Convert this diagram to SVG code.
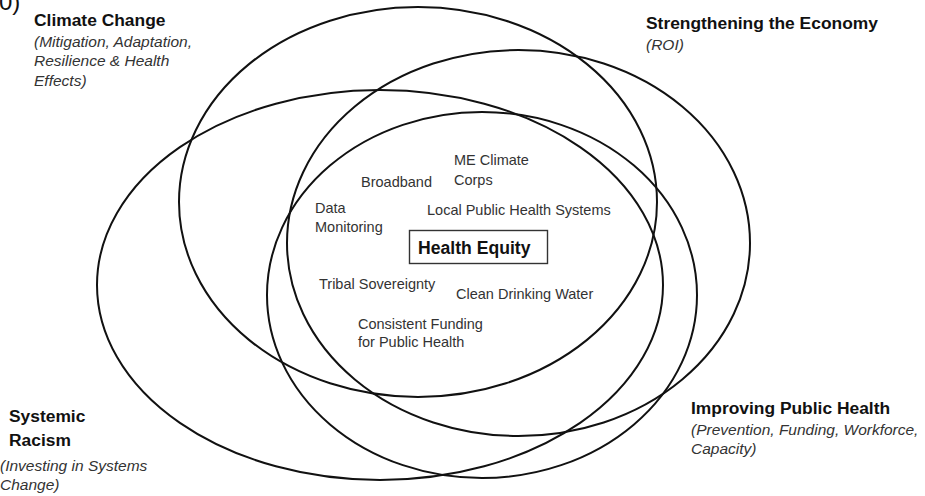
<svg xmlns="http://www.w3.org/2000/svg" width="925" height="496" viewBox="0 0 925 496">
<style>
  .ring { fill: none; stroke: #111; stroke-width: 2; }
  .head { font-family: "Liberation Sans", Arial, sans-serif; font-weight: bold; font-size: 17.4px; fill: #111; }
  .sub { font-family: "Liberation Sans", Arial, sans-serif; font-style: italic; font-size: 15.5px; fill: #333; }
  .item { font-family: "Liberation Sans", Arial, sans-serif; font-size: 14.5px; fill: #333; }
  .box { fill: #fff; stroke: #333; stroke-width: 1.4; }
  .center { font-family: "Liberation Sans", Arial, sans-serif; font-weight: bold; font-size: 17.6px; fill: #111; }
</style>
<rect width="925" height="496" fill="#fff"/>
<text x="-1" y="10" style="font-family: 'Liberation Sans', Arial, sans-serif; font-size: 24px; fill: #111;">0)</text>

<g id="climate-change">
  <ellipse class="ring" cx="418" cy="202" rx="239" ry="195"/>
  <text class="head" x="34" y="26">Climate Change</text>
  <text class="sub" x="34" y="47">(Mitigation, Adaptation,</text>
  <text class="sub" x="34" y="66">Resilience &amp; Health</text>
  <text class="sub" x="34" y="85.5">Effects)</text>
</g>

<g id="strengthening-economy">
  <ellipse class="ring" cx="518.5" cy="243" rx="231.5" ry="193"/>
  <text class="head" x="646" y="29">Strengthening the Economy</text>
  <text class="sub" x="646" y="50">(ROI)</text>
</g>

<g id="systemic-racism">
  <ellipse class="ring" cx="380" cy="285" rx="283" ry="195"/>
  <text class="head" x="9" y="422">Systemic</text>
  <text class="head" x="9" y="446">Racism</text>
  <text class="sub" x="0" y="471">(Investing in Systems</text>
  <text class="sub" x="0" y="490">Change)</text>
</g>

<g id="improving-public-health">
  <ellipse class="ring" cx="482" cy="295" rx="215" ry="183"/>
  <text class="head" x="691" y="414">Improving Public Health</text>
  <text class="sub" x="691" y="435">(Prevention, Funding, Workforce,</text>
  <text class="sub" x="691" y="454">Capacity)</text>
</g>

<g id="health-equity">
  <rect class="box" x="409.5" y="230.5" width="138" height="33"/>
  <text class="center" x="418" y="253.5">Health Equity</text>
</g>

<g id="me-climate-corps">
  <text class="item" x="454" y="164.5">ME Climate</text>
  <text class="item" x="454" y="184.5">Corps</text>
</g>
<g id="broadband">
  <text class="item" x="361" y="187">Broadband</text>
</g>
<g id="data-monitoring">
  <text class="item" x="315" y="212.5">Data</text>
  <text class="item" x="315" y="232">Monitoring</text>
</g>
<g id="local-public-health-systems">
  <text class="item" x="427" y="215">Local Public Health Systems</text>
</g>
<g id="tribal-sovereignty">
  <text class="item" x="319" y="288.5">Tribal Sovereignty</text>
</g>
<g id="clean-drinking-water">
  <text class="item" x="456" y="298.5">Clean Drinking Water</text>
</g>
<g id="consistent-funding">
  <text class="item" x="358" y="328.5">Consistent Funding</text>
  <text class="item" x="358" y="347">for Public Health</text>
</g>
</svg>
